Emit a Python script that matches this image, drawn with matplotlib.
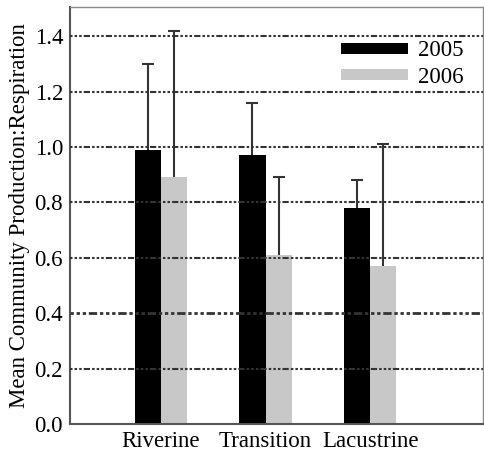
import numpy as np
import matplotlib.pyplot as plt

plt.rcParams['font.family'] = ['Liberation Serif', 'DejaVu Serif']

# Data
sites = ["Riverine", "Transition", "Lacustrine"]
mean_2005 = [0.99, 0.97, 0.78]
mean_2006 = [0.89, 0.61, 0.57]
top_2005 = [1.30, 1.16, 0.88]
top_2006 = [1.42, 0.89, 1.01]

err_2005 = np.array(top_2005) - np.array(mean_2005)
err_2006 = np.array(top_2006) - np.array(mean_2006)

fig = plt.figure(figsize=(4.85, 4.58), dpi=100)
ax = fig.add_axes([70 / 485, 34 / 458, 413 / 485, 417 / 458])

x = np.arange(len(sites))
w = 0.25

ekw = dict(ecolor="#333333", elinewidth=1.5, capsize=4.5, capthick=1.5)
ax.bar(x - w / 2, mean_2005, w, color="black", label="2005", zorder=2)
ax.bar(x + w / 2, mean_2006, w, color="#c8c8c8", label="2006", zorder=2)
for xs, m, e in [(x - w / 2, mean_2005, err_2005), (x + w / 2, mean_2006, err_2006)]:
    eb = ax.errorbar(xs, m, yerr=[np.zeros(3), e], fmt="none", zorder=3, **ekw)
    # only the upper whisker carries a cap
    eb[1][0].set_visible(False)

ax.set_xlim(-0.87, 3.08)
ax.set_ylim(0, 1.505)
ax.set_yticks(np.arange(0, 1.41, 0.2))
ax.set_yticklabels([f"{v:.1f}" for v in np.arange(0, 1.41, 0.2)])
ax.set_xticks(x)
ax.set_xticklabels(sites)
ax.tick_params(axis="both", length=0, labelsize=16.5, pad=5)

for yv in np.arange(0.2, 1.41, 0.2):
    lw = 2.0 if abs(yv - 0.4) < 1e-6 else 1.5
    ax.axhline(yv, color="#333333", lw=lw,
               ls=(0, (1.2, 1, 1.2, 1, 1.2, 1, 3, 1)), zorder=4)

for side in ["left", "bottom"]:
    ax.spines[side].set_color("#555555")
    ax.spines[side].set_linewidth(1.5)
for side in ["top", "right"]:
    ax.spines[side].set_color("#888888")
    ax.spines[side].set_linewidth(1.0)

ax.set_ylabel("Mean Community Production:Respiration", fontsize=16.5, labelpad=3)

ax.legend(loc="upper right", frameon=False, fontsize=16.5, handlelength=2.9,
          handleheight=0.35, handletextpad=0.45, borderaxespad=0.0,
          bbox_to_anchor=(0.975, 0.942), labelspacing=0.25)

fig.savefig("out.png", dpi=100)
